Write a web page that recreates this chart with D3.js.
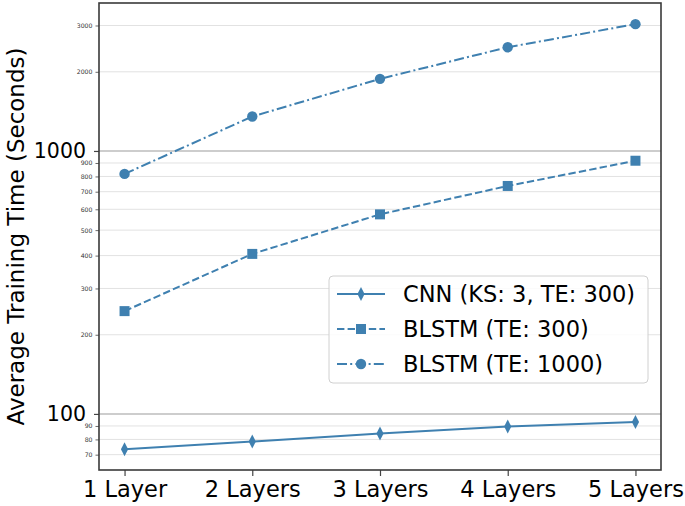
<!DOCTYPE html>
<html>
<head>
<meta charset="utf-8">
<script src="https://cdn.jsdelivr.net/npm/d3@7"></script>
<style>
  html, body { margin: 0; padding: 0; background: #fff; }
  svg { display: block; font-family: "DejaVu Sans", sans-serif; }
</style>
</head>
<body>
<svg id="chart" width="685" height="506"></svg>
<script>
// ---- data ----
const categories = ["1 Layer", "2 Layers", "3 Layers", "4 Layers", "5 Layers"];
const cnnValues = [73.4, 78.5, 84.2, 89.5, 93.2];
const blstm300Values = [246, 406, 574, 736, 918];
const blstm1000Values = [818, 1352, 1880, 2480, 3035];
const seriesNames = ["CNN (KS: 3, TE: 300)", "BLSTM (TE: 300)", "BLSTM (TE: 1000)"];
const majorTicks = [100, 1000];
const minorTicks = [70, 80, 90, 200, 300, 400, 500, 600, 700, 800, 900, 2000, 3000];
const yLabel = "Average Training Time (Seconds)";

// ---- layout ----
const svg = d3.select("#chart");
const plotL = 99, plotR = 661, plotT = 3, plotB = 470;
const color = "#3f80b0";

const x = d3.scalePoint().domain(categories).range([plotL, plotR]).padding(0.2);
const y = d3.scaleLog().domain([61.2, 3653]).range([plotB, plotT]);

// gridlines
svg.append("g").selectAll("line").data(minorTicks).join("line")
  .attr("x1", plotL).attr("x2", plotR)
  .attr("y1", d => y(d)).attr("y2", d => y(d))
  .attr("stroke", "#e2e2e2").attr("stroke-width", 1);
svg.append("g").selectAll("line").data(majorTicks).join("line")
  .attr("x1", plotL).attr("x2", plotR)
  .attr("y1", d => y(d)).attr("y2", d => y(d))
  .attr("stroke", "#bdbdbd").attr("stroke-width", 1.5);

// y axis minor
const yMinor = svg.append("g").attr("transform", `translate(${plotL},0)`)
  .call(d3.axisLeft(y).tickValues(minorTicks).tickFormat(d3.format("d")).tickSize(3.5).tickPadding(3));
yMinor.select(".domain").remove();
yMinor.selectAll("text").attr("font-size", 6.2).attr("fill", "#333").attr("font-family", "DejaVu Sans");
yMinor.selectAll("line").attr("stroke", "#444").attr("stroke-width", 0.8);

// y axis major
const yMajor = svg.append("g").attr("transform", `translate(${plotL},0)`)
  .call(d3.axisLeft(y).tickValues(majorTicks).tickFormat(d3.format("d")).tickSize(5).tickPadding(8));
yMajor.select(".domain").remove();
yMajor.selectAll("text").attr("font-size", 20.5).attr("fill", "#000").attr("font-family", "DejaVu Sans");
yMajor.selectAll("line").attr("stroke", "#444").attr("stroke-width", 1.2);

// x axis
const xAxis = svg.append("g").attr("transform", `translate(0,${plotB})`)
  .call(d3.axisBottom(x).tickSize(6).tickPadding(5));
xAxis.select(".domain").remove();
xAxis.selectAll("text").attr("font-size", 22.5).attr("fill", "#000").attr("font-family", "DejaVu Sans");
xAxis.selectAll("line").attr("stroke", "#444").attr("stroke-width", 1.2);

// spines
svg.append("rect").attr("x", plotL).attr("y", plotT)
  .attr("width", plotR - plotL).attr("height", plotB - plotT)
  .attr("fill", "none").attr("stroke", "#3a3a3a").attr("stroke-width", 1.6);

// y label
svg.append("text")
  .attr("transform", `translate(24,${(plotT + plotB) / 2}) rotate(-90)`)
  .attr("text-anchor", "middle")
  .attr("font-size", 23)
  .attr("fill", "#000")
  .text(yLabel);

// symbols
const thinDiamond = {
  draw(ctx, size) {
    const w = 3.6, h = 7;
    ctx.moveTo(0, -h); ctx.lineTo(w, 0); ctx.lineTo(0, h); ctx.lineTo(-w, 0); ctx.closePath();
  }
};
const series = [
  { name: seriesNames[0], values: cnnValues, dash: null, symbol: thinDiamond, size: 1 },
  { name: seriesNames[1], values: blstm300Values, dash: "7.4,3.2", symbol: d3.symbolSquare, size: 100 },
  { name: seriesNames[2], values: blstm1000Values, dash: "10,3.2,2,3.2", symbol: d3.symbolCircle, size: 85 }
];

const line = d3.line().x((d, i) => x(categories[i])).y(d => y(d));

series.forEach(s => {
  svg.append("path").datum(s.values)
    .attr("d", line)
    .attr("fill", "none")
    .attr("stroke", color)
    .attr("stroke-width", 2)
    .attr("stroke-dasharray", s.dash);
  svg.append("g").selectAll("path").data(s.values).join("path")
    .attr("transform", (d, i) => `translate(${x(categories[i])},${y(d)})`)
    .attr("d", d3.symbol().type(s.symbol).size(s.size))
    .attr("fill", color);
});

// legend
const lg = svg.append("g");
lg.append("rect").attr("x", 329).attr("y", 276).attr("width", 319).attr("height", 107)
  .attr("rx", 4).attr("fill", "#fff").attr("fill-opacity", 0.85)
  .attr("stroke", "#d0d0d0").attr("stroke-width", 1);
const rowY = [294, 329, 364];
series.forEach((s, i) => {
  const g = lg.append("g");
  g.append("line").attr("x1", 337).attr("x2", 385).attr("y1", rowY[i]).attr("y2", rowY[i])
    .attr("stroke", color).attr("stroke-width", 2).attr("stroke-dasharray", s.dash);
  g.append("path").attr("transform", `translate(361,${rowY[i]})`)
    .attr("d", d3.symbol().type(s.symbol).size(s.size)).attr("fill", color);
  g.append("text").attr("x", 403).attr("y", rowY[i]).attr("dy", "0.36em")
    .attr("font-size", 22.5).attr("fill", "#000").text(s.name);
});
</script>
</body>
</html>
